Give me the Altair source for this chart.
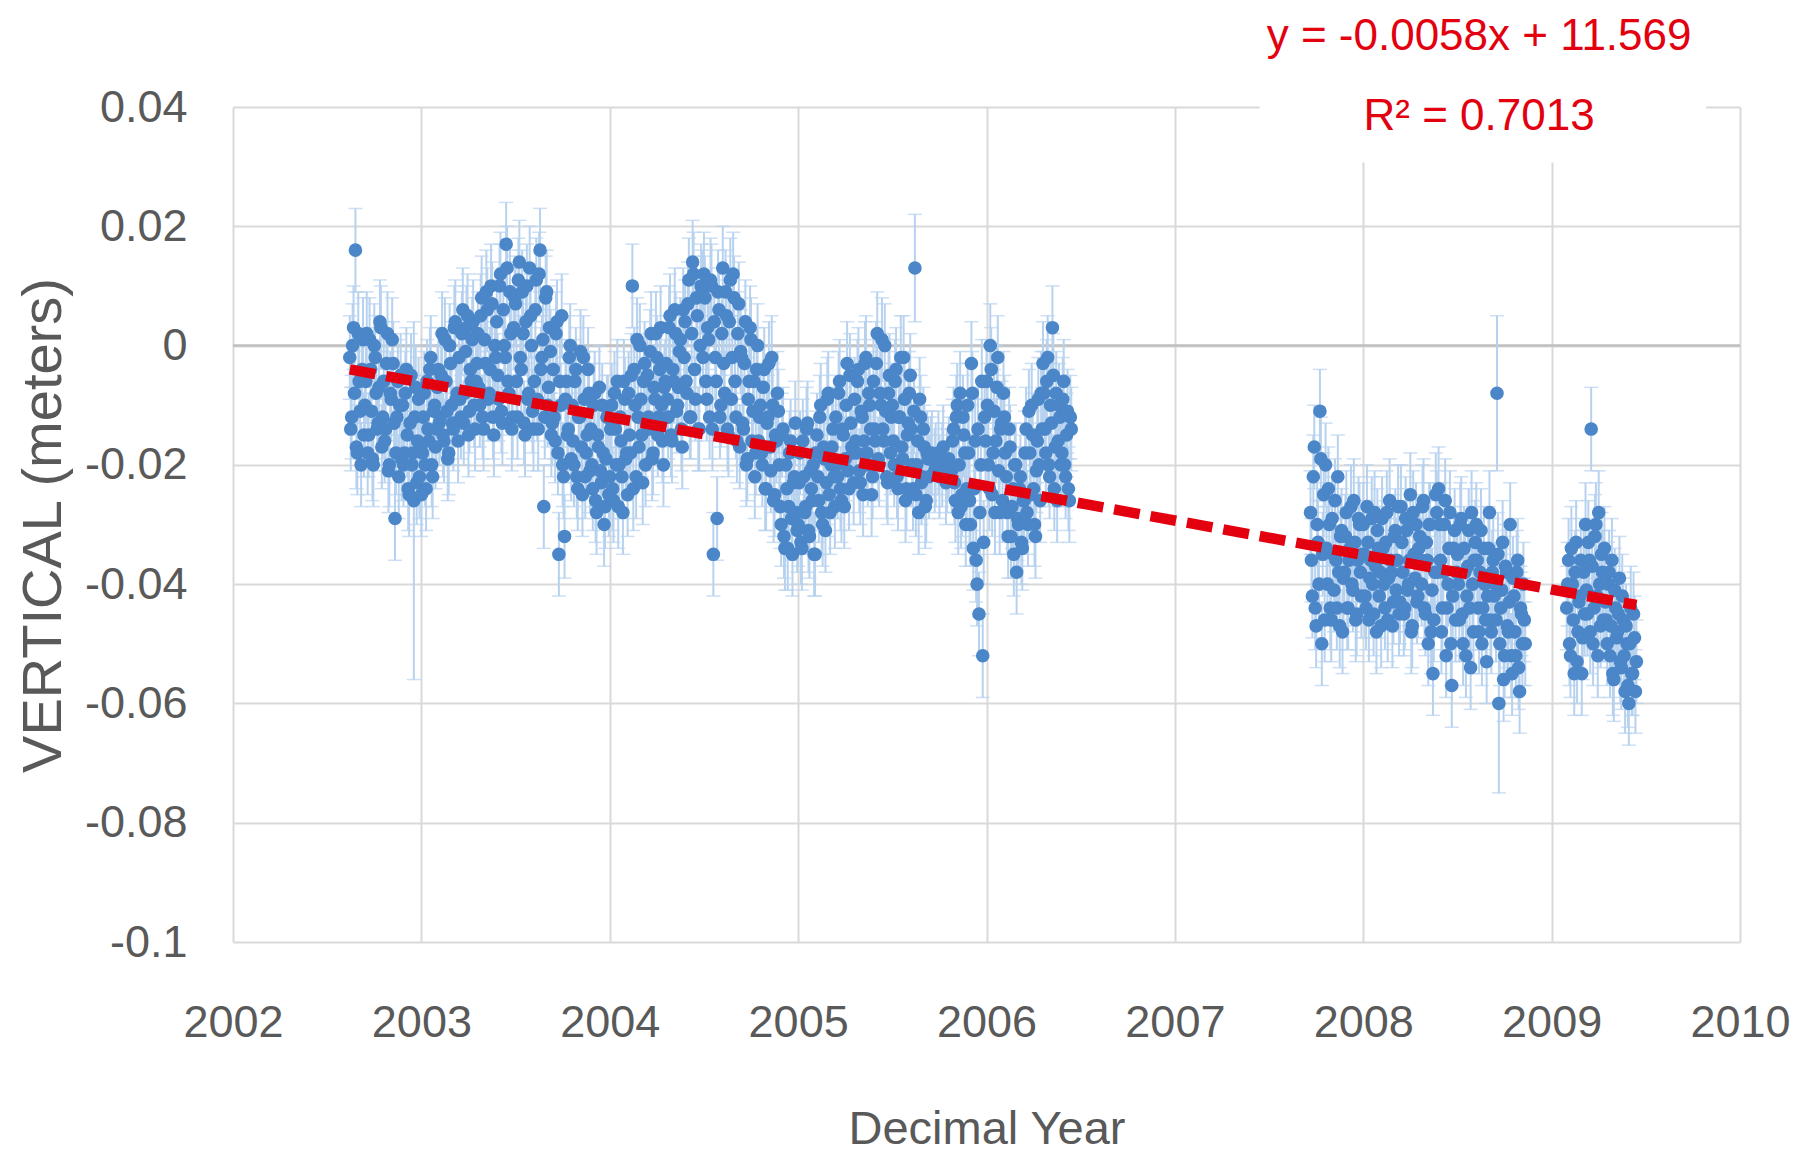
import altair as alt
import pandas as pd

# ---------------- data ----------------
STEP = 0.01  # decimal-year spacing inside each list

# first pass of readings (on the hundredths of a year)
SEG1_START = 2002.62
SEG1_MM = [
    -2, -12, 3, 16, -18, -6, -20, 1,
    -10, 2, -15, -4, -19, 0, -8, -13, 4, -17,
    -6, -14, 2, -20, -9, -3, -29, -12, -22, -5,
    -10, -18, -4, -24, -13, -20, -26, -7, -16, -22,
    -25, -12, -20, -6, -16, -2, -22, -10, -14, -4,
    -12, 2, -16, -6, -19, 0, -10, -14, 4, -8,
    -2, -12, 6, -8, 3, -15, -4, 1, -10, -6,
    2, -10, 8, -14, -3, 6, -8, 10, -12, 0,
    4, -9, 12, -13, 0, 17, -6, 9, -14, 3,
    7, -12, 14, -4, 2, -15, 10, -8, 5, -11,
    -6, 11, -14, 16, -2, -27, 8, -10, 3, -15,
    -4, -16, 4, -35, -10, -20, -32, -6, -14, 0,
    -10, -20, -4, -24, -12, -17, -2, -22, -15, -8,
    -14, -24, -8, -28, -17, -21, -10, -30, -19, -12,
    -22, -10, -26, -14, -6, -20, -16, -28, -9, -18,
    -8, -18, 10, -4, -22, -12, 0, -15, -6, -20,
    -5, -14, 2, -18, -9, -2, -12, 3, -16, -7,
    -3, -12, 5, -16, -6, 2, -10, -1, -14, 6,
    4, -8, 11, -12, 14, -4, 8, -14, 0, 9,
    12, -6, 3, -12, 10, -35, -2, -29, 6, -10,
    13, -8, 5, -15, 11, -2, 8, -12, 2, -17,
    -2, -14, 4, -19, -6, 1, -11, -22, -4, -16,
    -10, -20, -4, -24, -12, -17, -2, -26, -15, -8,
    -20, -30, -14, -34, -24, -27, -16, -35, -22, -28,
    -30, -18, -34, -22, -27, -13, -32, -24, -20, -35,
    -15, -26, -10, -30, -19, -23, -8, -28, -17, -22,
    -12, -22, -6, -26, -15, -19, -3, -24, -13, -18,
    -9, -18, -4, -23, -12, -16, -2, -20, -10, -25,
    -6, -16, 2, -20, -10, -14, 0, -22, -8, -18,
    -10, -20, -4, -24, -12, -17, -2, -26, -15, -8,
    -14, -24, 13, -20, -28, -12, -22, -17, -26, -19,
    None, -18, None, -20, None, -22, None, -17, None, -21,
    -19, None, -16, -23, -12, -28, -8, -25, -15, -30,
    -10, -26, -3, -34, -16, -40, -45, -20, -52, -12,
    -6, -20, 0, -25, -11, -16, -2, -28, -13, -8,
    -18, -28, -14, -32, -24, -20, -38, -30, -22, -34,
    -26, -14, -30, -18, -10, -24, -32, -16, -20, -8,
    -3, -14, -6, -20, -10, 3, -24, -8, -16, -12,
    -18, -6, -22, -11, -26, -14,
]

SEG2_START = 2007.72
SEG2_MM = [
    -28, -42, -17, -47, -33, -11, -50, -25,
    -20, -40, -30, -46, -35, -26, -44, -38, -32, -48,
    -38, -28, -44, -34, -40, -26, -46, -36, -30, -42,
    -30, -42, -27, -46, -36, -40, -28, -48, -34, -38,
    -29, -40, -33, -46, -26, -38, -43, -31, -36, -45,
    -27, -38, -44, -31, -40, -25, -47, -35, -30, -42,
    -32, -40, -26, -45, -36, -30, -48, -55, -38, -28,
    -24, -36, -44, -30, -52, -40, -28, -57, -34, -46,
    -35, -46, -29, -50, -38, -42, -31, -54, -40, -36,
    -30, -44, -38, -50, -34, -46, -42, -28, -48, -36,
    -40, -8, -60, -44, -33, -52, -38, -48, -30, -55,
    -42, -52, -36, -58, -45, -40, -50,
]

SEG3_START = 2009.08
SEG3_MM = [
    -44, -36, -52, -40, -55, -33, -48, -42, -55, -38,
    -30, -45, -36, -14, -50, -32, -42, -28, -47, -38,
    -34, -46, -40, -52, -36, -56, -44, -48, -39, -54,
    -46, -58, -50, -60, -44, -55, -49, -53,
]

# second pass of readings (half-way between the first ones)
SEG1B_START = 2002.625
SEG1B_MM = [
    -14, 0, -8, -17, 2, -11, -4, -15,
    -6, -18, 1, -11, -20, -2, -14, -7, 3, -12,
    -16, -3, -21, -8, 1, -13, -18, -6, -10, -19,
    -20, -8, -15, -25, -5, -18, -12, -23, -9, -17,
    -18, -8, -24, -14, -4, -20, -11, -17, -7, -13,
    -5, -15, 1, -11, -18, -3, -13, 3, -9, -16,
    -9, 2, -13, -1, 5, -11, -6, 4, -14, -3,
    -7, 5, -12, 1, 9, -9, -4, 7, -15, -2,
    -5, 10, -11, 6, -2, 13, -8, 2, -12, 8,
    -6, 11, -2, 9, -13, 4, -9, 13, 0, -14,
    6, -9, 12, -4, 1, -12, 9, -7, -1, -13,
    -12, 2, -18, -6, 5, -22, -9, -15, -2, -19,
    -16, -6, -22, -12, -1, -25, -9, -18, -4, -21,
    -20, -10, -26, -15, -7, -23, -18, -27, -12, -25,
    -14, -24, -8, -20, -27, -12, -22, -6, -19, -25,
    -15, -5, -24, -10, 1, -17, -9, -23, -3, -13,
    -12, -1, -19, -7, 2, -15, -4, -10, -20, -6,
    -9, 3, -15, -4, 6, -11, -7, 1, -17, -2,
    -6, 7, -12, 2, 12, -9, 5, -14, 10, -2,
    8, -9, 1, 11, -14, 4, -6, 9, -12, 2,
    -3, 9, -14, 4, -9, 12, -6, -16, 7, -1,
    -13, -3, -20, -9, 3, -16, -6, -18, 0, -12,
    -18, -7, -24, -13, -3, -21, -10, -25, -16, -11,
    -27, -15, -32, -20, -34, -18, -29, -23, -13, -31,
    -23, -33, -16, -28, -14, -31, -21, -26, -35, -18,
    -22, -12, -28, -17, -31, -9, -25, -20, -14, -27,
    -20, -8, -24, -14, -27, -10, -21, -5, -17, -23,
    -16, -6, -21, -11, -25, -3, -18, -8, -14, -22,
    -14, -3, -19, -8, 1, -16, -11, -23, -5, -12,
    -16, -6, -22, -12, -2, -19, -9, -24, -13, -5,
    -20, -11, -25, -16, -9, -23, -14, -27, -18, -22,
    -19, None, -21, None, -18, None, -20, None, -23, None,
    None, -21, -14, -26, -10, -20, -27, -12, -18, -24,
    -18, -30, -8, -24, -36, -14, -28, -6, -33, -16,
    -10, -24, -4, -18, -28, -7, -21, -14, -26, -12,
    -22, -32, -17, -27, -35, -20, -29, -24, -33, -26,
    -18, -28, -11, -25, -15, -30, -21, -9, -26, -14,
    -8, -18, -2, -22, -13, -5, -17, -26, -10, -20,
    -9, -20, -15, -24, -12,
]

SEG2B_START = 2007.725
SEG2B_MM = [
    -36, -22, -44, -30, -40, -19, -35, -46,
    -34, -24, -44, -29, -41, -36, -22, -47, -31, -39,
    -32, -44, -36, -27, -41, -33, -45, -29, -38, -35,
    -35, -44, -33, -39, -29, -45, -37, -31, -42, -47,
    -34, -44, -28, -39, -36, -47, -32, -41, -27, -43,
    -33, -45, -29, -41, -36, -48, -28, -39, -43, -34,
    -36, -27, -44, -33, -50, -30, -41, -46, -25, -38,
    -30, -48, -38, -26, -44, -34, -50, -42, -31, -38,
    -40, -30, -45, -34, -52, -37, -44, -28, -48, -33,
    -36, -48, -31, -44, -40, -53, -34, -46, -38, -42,
    -46, -35, -50, -41, -56, -37, -47, -43, -52, -39,
    -48, -38, -54, -44, -50, -46,
]

SEG3B_START = 2009.085
SEG3B_MM = [
    -40, -50, -34, -46, -38, -53, -43, -36, -49, -45,
    -41, -33, -48, -37, -44, -30, -52, -40, -35, -46,
    -43, -50, -38, -47, -55, -41, -49, -45, -53, -42,
    -52, -47, -57, -50, -55, -45, -58,
]

ERR_MM = 7                      # usual half-length of an error bar
BIG_ERR_YEARS = [2002.96, 2005.62, 2008.71, 2008.72]
BIG_ERR_MM = [30, 9, 13, 15]

TREND_X = [2002.62, 2009.45]
TREND_Y = [-0.0040, -0.0435]

EQ_LINES = ["y = -0.0058x + 11.569", "R² = 0.7013"]
EQ_X = [2008.615, 2008.615]
EQ_Y = [0.0517, 0.0384]
BOX_X = [2007.45, 2009.82]
BOX_Y = [0.0307, 0.062]

X_TICKS = [2002, 2003, 2004, 2005, 2006, 2007, 2008, 2009, 2010]
Y_TICKS = [-0.1, -0.08, -0.06, -0.04, -0.02, 0, 0.02, 0.04]

# ---------------- table ----------------
rows = []
big = dict(zip([round(v, 3) for v in BIG_ERR_YEARS], BIG_ERR_MM))
segments = [(SEG1_START, SEG1_MM), (SEG2_START, SEG2_MM), (SEG3_START, SEG3_MM),
            (SEG1B_START, SEG1B_MM), (SEG2B_START, SEG2B_MM), (SEG3B_START, SEG3B_MM)]
for start, seg in segments:
    for i, mm in enumerate(seg):
        if mm is None:
            continue
        yr = round(start + i * STEP, 3)
        e = big.get(yr, ERR_MM)
        rows.append({"year": yr, "v": mm / 1000.0,
                     "lo": (mm - e) / 1000.0, "hi": (mm + e) / 1000.0})
df = pd.DataFrame(rows).sort_values("year")

trend = pd.DataFrame({"year": TREND_X, "v": TREND_Y})
eq = pd.DataFrame({"year": EQ_X, "v": EQ_Y, "t": EQ_LINES})
box = pd.DataFrame({"x0": [BOX_X[0]], "x1": [BOX_X[1]], "y0": [BOX_Y[0]], "y1": [BOX_Y[1]]})
zero = pd.DataFrame({"v": [0.0]})

FONT = "Liberation Sans, Arial, sans-serif"
GRAY = "#595959"
ERRC = "#B7D2EF"

xscale = alt.Scale(domain=[2002, 2010], nice=False, zero=False)
yscale = alt.Scale(domain=[-0.1, 0.04], nice=False, zero=False)

xaxis = alt.Axis(values=X_TICKS, format="d", grid=True, gridColor="#D9D9D9", gridWidth=2,
                 domain=False, ticks=False, tickSize=0, labelFont=FONT, labelFontSize=45,
                 labelColor=GRAY, labelPadding=80, labelBaseline="middle", labelFlush=False,
                 labelOverlap=False, labelBound=False,
                 title="Decimal Year", titleFont=FONT, titleFontSize=47,
                 titleFontWeight="normal", titleColor=GRAY, titleY=187, titleBaseline="middle")
yaxis = alt.Axis(values=Y_TICKS, grid=True, gridColor="#D9D9D9", gridWidth=2,
                 domain=False, ticks=False, tickSize=0, labelFont=FONT, labelFontSize=45,
                 labelColor=GRAY, labelPadding=46, labelOverlap=False, labelBound=False,
                 labelFlush=False,
                 labelExpr="datum.value == 0 ? '0' : replace(format(datum.value, '.2~f'), '\u2212', '-')",
                 title="VERTICAL (meters)", titleFont=FONT,
                 titleFontSize=56, titleFontWeight="normal", titleColor=GRAY,
                 titleAngle=270, titleX=-190, titleY=418, titleBaseline="middle")


def X(f):
    return alt.X(f, type="quantitative", scale=xscale, axis=xaxis)


def Y(f):
    return alt.Y(f, type="quantitative", scale=yscale, axis=yaxis)


zero_line = alt.Chart(zero).mark_rule(color="#BFBFBF", strokeWidth=2.5).encode(y=Y("v"))

bars = alt.Chart(df).mark_rule(color=ERRC, strokeWidth=2).encode(
    x=X("year"), y=Y("lo"), y2="hi")
cap_lo = alt.Chart(df).mark_tick(orient="horizontal", color=ERRC, size=14, thickness=1.5).encode(
    x=X("year"), y=Y("lo"))
cap_hi = alt.Chart(df).mark_tick(orient="horizontal", color=ERRC, size=14, thickness=1.5).encode(
    x=X("year"), y=Y("hi"))
points = alt.Chart(df).mark_circle(size=185, color="#4A86C8", opacity=1).encode(
    x=X("year"), y=Y("v"))
trend_line = alt.Chart(trend).mark_line(color="#E3000F", strokeWidth=10.5, strokeDash=[26, 11],
                                        strokeCap="butt").encode(x=X("year"), y=Y("v"))
label_box = alt.Chart(box).mark_rect(fill="white", clip=False).encode(
    x=X("x0"), x2="x1", y=Y("y0"), y2="y1")
eq_text = alt.Chart(eq).mark_text(font=FONT, fontSize=44, color="#E3000F",
                                  align="center", baseline="middle").encode(
    x=X("year"), y=Y("v"), text="t:N")

chart = alt.layer(zero_line, bars, cap_lo, cap_hi, points, trend_line, label_box, eq_text).properties(
    width=1507, height=835,
    autosize=alt.AutoSizeParams(type="none"),
    padding={"left": 225, "top": 99, "right": 70, "bottom": 221},
    background="white",
).configure_view(stroke=None)

chart.save("out.html", embed_options={"renderer": "svg", "actions": False})
